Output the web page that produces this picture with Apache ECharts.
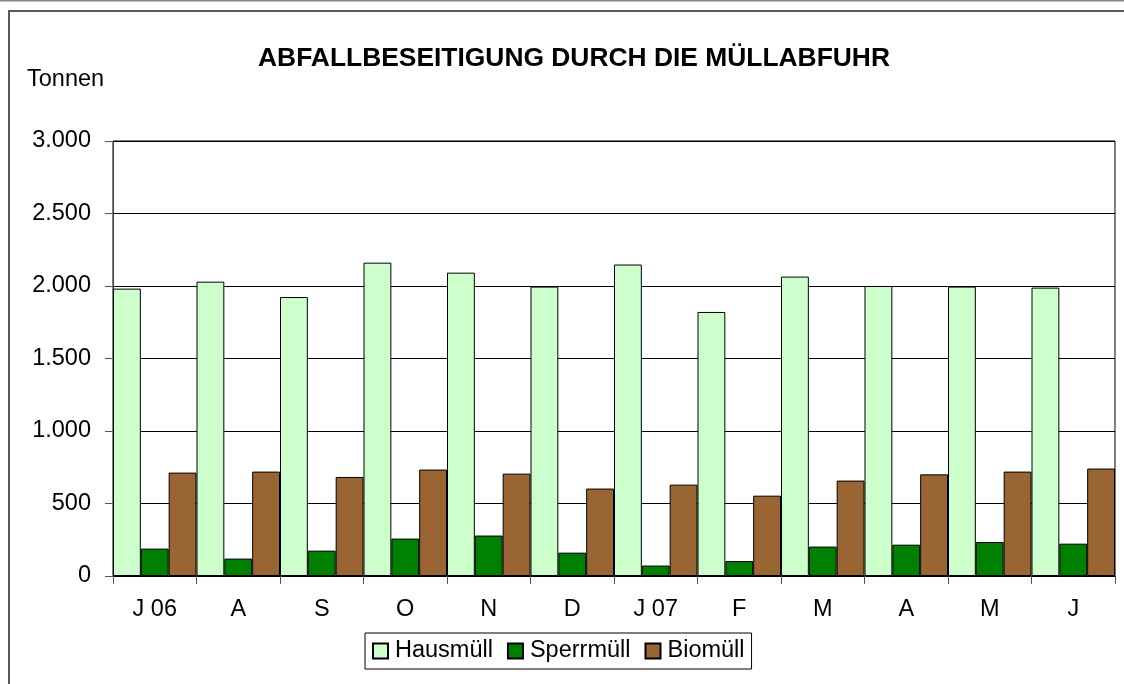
<!DOCTYPE html>
<html>
<head>
<meta charset="utf-8">
<script src="https://cdn.jsdelivr.net/npm/echarts@6/dist/echarts.min.js"></script>
<style>
  html, body { margin: 0; padding: 0; background: #fff; }
  #chart { width: 1124px; height: 684px; }
</style>
</head>
<body>
<div id="chart"></div>
<script>
// Monate Juli 2006 bis Juni 2007
const months = ['J 06', 'A', 'S', 'O', 'N', 'D', 'J 07', 'F', 'M', 'A', 'M', 'J'];

// Tonnen je Monat
const hausmuell = [1982, 2030, 1924, 2161, 2092, 1996, 2148, 1821, 2065, 2000, 1996, 1989];
const sperrmuell = [189, 120, 175, 258, 279, 161, 72, 103, 203, 216, 234, 223];
const biomuell = [713, 720, 683, 734, 706, 603, 630, 554, 658, 701, 720, 741];

const seriesNames = ['Hausmüll', 'Sperrmüll', 'Biomüll'];
const seriesColors = ['#ccffcc', '#008000', '#996633'];

const font = '"Liberation Sans", Arial, Helvetica, sans-serif';
const fs = 23.5;

// Tausenderpunkt wie im Original
function fmt(v) {
  return String(v).replace(/\B(?=(\d{3})+(?!\d))/g, '.');
}

const chart = echarts.init(document.getElementById('chart'));

const data = [hausmuell, sperrmuell, biomuell];

const option = {
  backgroundColor: '#fff',
  animation: false,
  textStyle: { fontFamily: font },
  graphic: [
    {
      type: 'line',
      shape: { x1: 0, y1: 0.5, x2: 1124, y2: 0.5 },
      style: { stroke: '#888', lineWidth: 2 }
    },
    {
      type: 'rect',
      shape: { x: 9, y: 11, width: 1300, height: 900 },
      style: { fill: null, stroke: '#222', lineWidth: 1.5 }
    },
    {
      type: 'text',
      x: 574,
      y: 59,
      style: {
        text: 'ABFALLBESEITIGUNG DURCH DIE MÜLLABFUHR',
        font: 'bold 26.4px ' + font,
        fill: '#000',
        align: 'center',
        verticalAlign: 'middle'
      }
    },
    {
      type: 'text',
      x: 27,
      y: 80,
      style: {
        text: 'Tonnen',
        font: fs + 'px ' + font,
        fill: '#000',
        align: 'left',
        verticalAlign: 'middle'
      }
    }
  ],
  legend: {
    data: seriesNames,
    left: 365,
    top: 633,
    orient: 'horizontal',
    padding: [6, 7, 6, 7],
    itemGap: 14,
    itemWidth: 15,
    itemHeight: 15,
    icon: 'rect',
    borderColor: '#000',
    borderWidth: 1,
    textStyle: { fontSize: fs, color: '#000', fontFamily: font, padding: [0, 0, 0, 2] },
    selectedMode: false
  },
  grid: {
    left: 113,
    right: 9,
    top: 141,
    bottom: 108,
    show: true,
    borderColor: '#000',
    borderWidth: 1,
    containLabel: false
  },
  xAxis: {
    type: 'category',
    data: months,
    axisLine: { lineStyle: { color: '#000', width: 1 } },
    axisTick: { show: true, length: 8, lineStyle: { color: '#555' } },
    axisLabel: { fontSize: fs, color: '#000', margin: 22, fontFamily: font },
    splitLine: { show: false }
  },
  yAxis: {
    type: 'value',
    min: 0,
    max: 3000,
    interval: 500,
    axisLine: { show: true, lineStyle: { color: '#444', width: 1 } },
    axisTick: { show: true, length: 8, lineStyle: { color: '#555' } },
    axisLabel: { fontSize: fs, color: '#000', margin: 22, fontFamily: font, formatter: fmt },
    splitLine: { show: true, lineStyle: { color: '#000', width: 1 } }
  },
  series: seriesNames.map((name, i) => ({
    name: name,
    type: 'bar',
    data: data[i],
    barGap: '0%',
    barCategoryGap: '0%',
    itemStyle: {
      color: seriesColors[i],
      borderColor: '#000',
      borderWidth: 1
    }
  }))
};

chart.setOption(option);
</script>
</body>
</html>
